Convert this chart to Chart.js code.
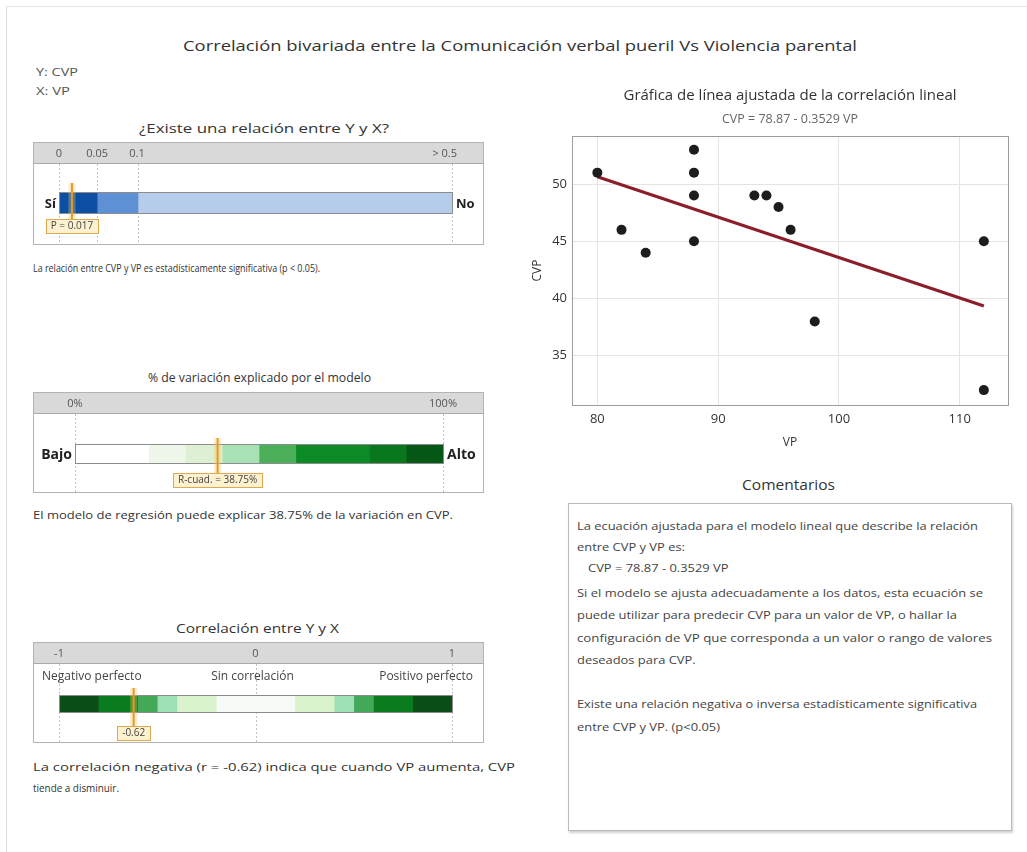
<!DOCTYPE html>
<html>
<head>
<meta charset="utf-8">
<script src="https://cdn.jsdelivr.net/npm/chart.js@4.4.0/dist/chart.umd.min.js"></script>
<style>
  body { margin: 0; background: #fff; font-family: 'Open Sans', 'Noto Sans', sans-serif; color: #333; }
  #page { position: relative; width: 1027px; height: 852px; overflow: hidden; background: #fff; }
  .frame { position: absolute; left: 6px; top: 6px; width: 1030px; height: 860px; border-left: 1px solid #dcdcdc; border-top: 1px solid #e4e4e4; }
  .t { position: absolute; white-space: nowrap; line-height: 20px; transform-origin: 0 50%; }
  .cmt { color: #444; font-size: 11px; }
  canvas { position: absolute; }
  #comments { position: absolute; left: 568px; top: 503px; width: 442px; height: 326px; border: 1px solid #b9b9b9; box-shadow: 1px 2px 2px rgba(0,0,0,0.18); background: #fff; }
</style>
</head>
<body>
<div id="page">
  <div class="frame"></div>

  <div class="t" style="font-size:15px;color:#333" data-cx="520" data-cy="45" data-w="674">Correlación bivariada entre la Comunicación verbal pueril Vs Violencia parental</div>
  <div class="t" style="font-size:11px;color:#555" data-x="36" data-cy="72" data-w="42">Y: CVP</div>
  <div class="t" style="font-size:11px;color:#555" data-x="36" data-cy="91" data-w="34">X: VP</div>

  <div class="t" style="font-size:13px;color:#333" data-cx="264" data-cy="128" data-w="250">¿Existe una relación entre Y y X?</div>
  <div class="t" style="font-size:11px;color:#333" data-x="33" data-cy="268" data-w="287">La relación entre CVP y VP es estadísticamente significativa (p &lt; 0.05).</div>

  <div class="t" style="font-size:13px;color:#333" data-cx="259" data-cy="377" data-w="223">% de variación explicado por el modelo</div>
  <div class="t" style="font-size:11.5px;color:#333" data-x="33" data-cy="515" data-w="420">El modelo de regresión puede explicar 38.75% de la variación en CVP.</div>

  <div class="t" style="font-size:13px;color:#333" data-cx="257" data-cy="628" data-w="163">Correlación entre Y y X</div>
  <div class="t" style="font-size:11.5px;color:#333" data-x="33" data-cy="767" data-w="482">La correlación negativa (r = -0.62) indica que cuando VP aumenta, CVP</div>
  <div class="t" style="font-size:11.5px;color:#333" data-x="33" data-cy="788" data-w="86">tiende a disminuir.</div>

  <canvas id="gaugeP" width="451" height="103" style="left:33px;top:142px"></canvas>
  <canvas id="gaugeR2" width="451" height="101" style="left:33px;top:392px"></canvas>
  <canvas id="gaugeR" width="451" height="101" style="left:33px;top:642px"></canvas>

  <canvas id="scatter" width="500" height="375" style="left:520px;top:80px"></canvas>

  <div class="t" style="font-size:14px;color:#333" data-cx="788" data-cy="485" data-w="93">Comentarios</div>
  <div id="comments"></div>
  <div class="t cmt" data-x="577" data-cy="526" data-w="401">La ecuación ajustada para el modelo lineal que describe la relación</div>
  <div class="t cmt" data-x="577" data-cy="547">entre CVP y VP es:</div>
  <div class="t cmt" data-x="588" data-cy="568">CVP = 78.87 - 0.3529 VP</div>
  <div class="t cmt" data-x="577" data-cy="593" data-w="406">Si el modelo se ajusta adecuadamente a los datos, esta ecuación se</div>
  <div class="t cmt" data-x="577" data-cy="615">puede utilizar para predecir CVP para un valor de VP, o hallar la</div>
  <div class="t cmt" data-x="577" data-cy="638" data-w="415">configuración de VP que corresponda a un valor o rango de valores</div>
  <div class="t cmt" data-x="577" data-cy="660">deseados para CVP.</div>
  <div class="t cmt" data-x="577" data-cy="704" data-w="400">Existe una relación negativa o inversa estadísticamente significativa</div>
  <div class="t cmt" data-x="577" data-cy="727">entre CVP y VP. (p&lt;0.05)</div>
</div>

<script>
// scatter data (VP on x, CVP on y)
const vpValues  = [80, 82, 84, 88, 88, 88, 88, 93, 94, 95, 96, 98, 112, 112];
const cvpValues = [51, 46, 44, 53, 51, 49, 45, 49, 49, 48, 46, 38, 45, 32];
const fitIntercept = 78.87;
const fitSlope = -0.3529;
const fitRange = [80, 112];
const xTicks = [80, 90, 100, 110];
const yTicks = [35, 40, 45, 50];

// p-value gauge
const pBreaks = [0, 0.05, 0.1, 0.5];
const pTickLabels = ['0', '0.05', '0.1', '> 0.5'];
const pValue = 0.017;

// R-squared gauge (%)
const r2Breaks = [0, 20, 30, 40, 50, 60, 80, 90, 100];
const r2Ticks = [0, 100];
const r2TickLabels = ['0%', '100%'];
const r2Value = 38.75;

// correlation gauge
const rBreaks = [-1, -0.8, -0.6, -0.5, -0.4, -0.2, 0.2, 0.4, 0.5, 0.6, 0.8, 1];
const rTicks = [-1, 0, 1];
const rTickLabels = ['-1', '0', '1'];
const rZoneLabels = ['Negativo perfecto', 'Sin correlación', 'Positivo perfecto'];
const rValue = -0.62;

const FONT = '"Open Sans", "Noto Sans", sans-serif';

// fit text boxes to the widths measured on the reference
function placeTexts() {
  let cmtScale = 1;
  document.querySelectorAll('.t').forEach(el => {
    const w = el.getBoundingClientRect().width;
    let s = 1;
    if (el.dataset.w) {
      s = el.dataset.w / w;
      if (el.classList.contains('cmt') && el.dataset.cy === '526') cmtScale = s;
    } else if (el.classList.contains('cmt')) {
      s = cmtScale;
    }
    el.style.transform = 'scaleX(' + s + ')';
    const left = el.dataset.cx ? el.dataset.cx - (w * s) / 2 : +el.dataset.x;
    el.style.left = left + 'px';
    el.style.top = (el.dataset.cy - 10) + 'px';
  });
}

// p gauge is not linear: stops give where each break sits along the bar (0..1)
const pStops = [0, 0.097, 0.201, 1];
function pPos(v) {
  for (let i = 0; i < pBreaks.length - 1; i++) {
    if (v <= pBreaks[i + 1]) {
      const f = (v - pBreaks[i]) / (pBreaks[i + 1] - pBreaks[i]);
      return pStops[i] + f * (pStops[i + 1] - pStops[i]);
    }
  }
  return 1;
}
const ident = v => v;

function gaugeDecor(g) {
  return {
    id: 'gaugeDecor',
    beforeDatasetsDraw(chart) {
      const { ctx, width, height } = chart;
      const xs = chart.scales.x;
      ctx.save();
      ctx.fillStyle = '#d9d9d9';
      ctx.fillRect(1, 1, width - 2, 21);
      ctx.strokeStyle = '#a9a9a9';
      ctx.lineWidth = 1;
      ctx.beginPath(); ctx.moveTo(1, 21.5); ctx.lineTo(width - 1, 21.5); ctx.stroke();
      ctx.strokeStyle = '#b3b3b3';
      ctx.strokeRect(0.5, 0.5, width - 1, height - 1);

      ctx.setLineDash([2, 2]);
      ctx.strokeStyle = '#c4c4c4';
      g.guides.forEach(v => {
        const px = Math.round(xs.getPixelForValue(g.pos(v))) + 0.5;
        ctx.beginPath(); ctx.moveTo(px, 22); ctx.lineTo(px, height - 1); ctx.stroke();
      });
      ctx.setLineDash([]);

      ctx.font = '11px ' + FONT;
      ctx.fillStyle = '#555';
      ctx.textBaseline = 'middle';
      g.ticks.forEach((v, i) => {
        ctx.textAlign = g.tickAlign[i];
        ctx.fillText(g.tickLabels[i], xs.getPixelForValue(g.pos(v)) + (g.tickShift ? g.tickShift[i] : 0), 11.5);
      });

      if (g.zones) {
        ctx.font = '12px ' + FONT;
        ctx.fillStyle = '#444';
        ctx.textAlign = 'left';
        ctx.fillText(g.zones[0], 9, 35);
        ctx.textAlign = 'center';
        ctx.fillText(g.zones[1], xs.getPixelForValue(0) - 3, 35);
        ctx.textAlign = 'right';
        ctx.fillText(g.zones[2], width - 11, 35);
      }
      ctx.restore();
    },
    afterDatasetsDraw(chart) {
      const { ctx, chartArea } = chart;
      const xs = chart.scales.x;
      const cy = (chartArea.top + chartArea.bottom) / 2;
      const top = cy - g.thick / 2, bot = cy + g.thick / 2;
      const x0 = xs.getPixelForValue(xs.min), x1 = xs.getPixelForValue(xs.max);
      ctx.save();
      ctx.strokeStyle = '#8c8c8c';
      ctx.lineWidth = 1;
      ctx.strokeRect(Math.round(x0) + 0.5, Math.round(top) - 0.5, Math.round(x1 - x0), Math.round(g.thick) + 1);

      if (g.sides) {
        ctx.font = 'bold ' + g.sideSize + 'px ' + FONT;
        ctx.fillStyle = '#222';
        ctx.textBaseline = 'middle';
        ctx.textAlign = 'right';
        ctx.fillText(g.sides[0], x0 - 3, cy + 1);
        ctx.textAlign = 'left';
        ctx.fillText(g.sides[1], x1 + 4, cy + 1);
      }

      const mx = xs.getPixelForValue(g.pos(g.value));
      const boxTop = bot + g.gap;
      ctx.strokeStyle = 'rgba(247, 196, 96, 0.35)';
      ctx.lineWidth = 7;
      ctx.beginPath(); ctx.moveTo(mx, top - g.above); ctx.lineTo(mx, boxTop); ctx.stroke();
      ctx.strokeStyle = '#e39a2d';
      ctx.lineWidth = 2;
      ctx.beginPath(); ctx.moveTo(mx, top - g.above); ctx.lineTo(mx, boxTop); ctx.stroke();

      ctx.font = '10px ' + FONT;
      const bw = ctx.measureText(g.valueLabel).width + 10;
      ctx.fillStyle = '#fdf1cf';
      ctx.fillRect(mx - bw / 2, boxTop, bw, 14);
      ctx.strokeStyle = '#dfa94f';
      ctx.lineWidth = 1;
      ctx.strokeRect(Math.round(mx - bw / 2) + 0.5, Math.round(boxTop) + 0.5, Math.round(bw), 14);
      ctx.fillStyle = '#444';
      ctx.textAlign = 'center';
      ctx.textBaseline = 'middle';
      ctx.fillText(g.valueLabel, mx, boxTop + 7.5);
      ctx.restore();
    }
  };
}

function gaugeChart(id, g) {
  const segs = [];
  for (let i = 0; i < g.breaks.length - 1; i++) {
    segs.push({
      data: [[g.pos(g.breaks[i]), g.pos(g.breaks[i + 1])]],
      backgroundColor: g.colors[i],
      borderWidth: 0,
      barThickness: g.thick,
      grouped: false
    });
  }
  return new Chart(document.getElementById(id), {
    type: 'bar',
    data: { labels: [''], datasets: segs },
    options: {
      indexAxis: 'y',
      responsive: false,
      animation: false,
      events: [],
      layout: { padding: { left: g.padL, right: g.padR, top: g.padT, bottom: g.padB } },
      scales: {
        x: { type: 'linear', min: g.pos(g.breaks[0]), max: g.pos(g.breaks[g.breaks.length - 1]), display: false },
        y: { display: false }
      },
      plugins: { legend: { display: false }, tooltip: { enabled: false } }
    },
    plugins: [gaugeDecor(g)]
  });
}

function drawAll() {
  placeTexts();

  gaugeChart('gaugeP', {
    breaks: pBreaks, pos: pPos,
    colors: ['#0c4fa3', '#5d90d5', '#b5ccea'],
    guides: pBreaks, ticks: pBreaks, tickLabels: pTickLabels,
    tickAlign: ['center', 'center', 'center', 'right'], tickShift: [0, 0, -1, 5],
    value: pValue, valueLabel: 'P = ' + pValue,
    sides: ['Sí', 'No'], sideSize: 13,
    thick: 20, padL: 26, padR: 32, padT: 21, padB: 2, above: 10, gap: 6
  });

  gaugeChart('gaugeR2', {
    breaks: r2Breaks, pos: ident,
    colors: ['#ffffff', '#eef6ea', '#ddf0d3', '#a8e2b4', '#4caf5a', '#0b8a25', '#08771e', '#055716'],
    guides: r2Ticks, ticks: r2Ticks, tickLabels: r2TickLabels,
    tickAlign: ['center', 'center'],
    value: r2Value, valueLabel: 'R-cuad. = ' + r2Value.toFixed(2) + '%',
    sides: ['Bajo', 'Alto'], sideSize: 14,
    thick: 18, padL: 42, padR: 41, padT: 23, padB: 0, above: 7, gap: 10
  });

  gaugeChart('gaugeR', {
    breaks: rBreaks, pos: ident,
    colors: ['#0b4d17', '#0b7b20', '#43a857', '#9ee0b5', '#d9f3cc', '#f6fbf8',
             '#d9f3cc', '#9ee0b5', '#43a857', '#0b7b20', '#0b4d17'],
    guides: rTicks, ticks: rTicks, tickLabels: rTickLabels,
    tickAlign: ['center', 'center', 'center'],
    zones: rZoneLabels,
    value: rValue, valueLabel: rValue.toFixed(2),
    thick: 16, padL: 26, padR: 32, padT: 23, padB: 0, above: 8, gap: 14
  });

  const points = vpValues.map((v, i) => ({ x: v, y: cvpValues[i] }));
  const fitLine = fitRange.map(v => ({ x: v, y: fitIntercept + fitSlope * v }));

  const plotFrame = {
    id: 'plotFrame',
    afterDraw(chart) {
      const { ctx, chartArea: a } = chart;
      ctx.save();
      ctx.strokeStyle = '#9c9c9c';
      ctx.lineWidth = 1;
      ctx.strokeRect(Math.round(a.left) + 0.5, Math.round(a.top) + 0.5, Math.round(a.right - a.left), Math.round(a.bottom - a.top));
      ctx.restore();
    }
  };

  new Chart(document.getElementById('scatter'), {
    type: 'scatter',
    data: {
      datasets: [
        { data: points, backgroundColor: '#1d1d1d', borderColor: '#1d1d1d', pointRadius: 5, borderWidth: 0, order: 0 },
        { type: 'line', data: fitLine, borderColor: '#8b1e2a', borderWidth: 3, pointRadius: 0, fill: false, order: 1 }
      ]
    },
    options: {
      responsive: false,
      animation: false,
      events: [],
      layout: { padding: { left: 0, right: 12, top: 0, bottom: 0 } },
      plugins: {
        legend: { display: false },
        tooltip: { enabled: false },
        title: {
          display: true, fullSize: false,
          text: 'Gráfica de línea ajustada de la correlación lineal',
          color: '#333', font: { family: FONT, size: 15, weight: 'normal', lineHeight: 1.2 },
          padding: { top: 7, bottom: 5 }
        },
        subtitle: {
          display: true, fullSize: false,
          text: 'CVP = ' + fitIntercept + ' - ' + Math.abs(fitSlope) + ' VP',
          color: '#666', font: { family: FONT, size: 12.5, lineHeight: 1.2 },
          padding: { top: 2, bottom: 9 }
        }
      },
      scales: {
        x: {
          type: 'linear', min: 77.9, max: 114,
          afterBuildTicks: s => { s.ticks = xTicks.map(v => ({ value: v })); },
          afterFit: s => { s.height = 50; },
          grid: { color: '#e4e4e4', drawTicks: false },
          border: { display: false },
          ticks: { color: '#333', font: { family: FONT, size: 13 }, padding: 6 },
          title: { display: true, text: 'VP', color: '#333', font: { family: FONT, size: 12 }, padding: { top: 0, bottom: 5 } }
        },
        y: {
          type: 'linear', min: 30.7, max: 54.2,
          afterBuildTicks: s => { s.ticks = yTicks.map(v => ({ value: v })); },
          afterFit: s => { s.width = 52; },
          grid: { color: '#e4e4e4', drawTicks: false },
          border: { display: false },
          ticks: { color: '#333', font: { family: FONT, size: 13 }, padding: 5 },
          title: { display: true, text: 'CVP', color: '#333', font: { family: FONT, size: 12 }, padding: { top: 10, bottom: 0 } }
        }
      }
    },
    plugins: [plotFrame]
  });
}

drawAll();
</script>
</body>
</html>
